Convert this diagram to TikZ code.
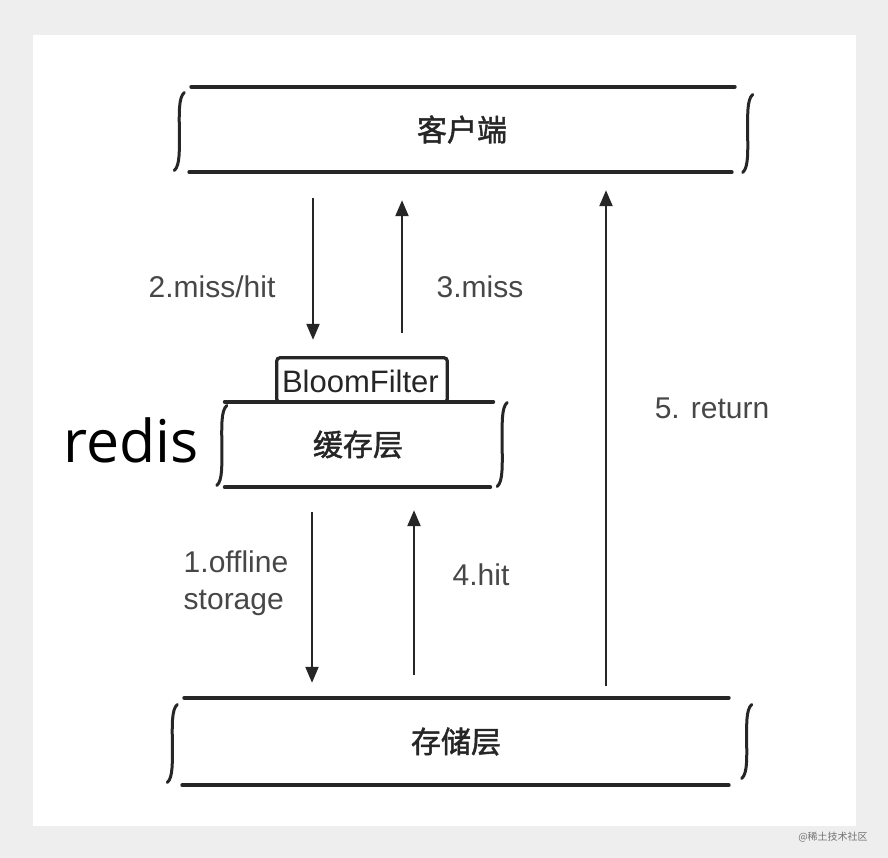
\documentclass[tikz,border=0pt]{standalone}
\usepackage{fontspec}
\setmainfont{Liberation Sans}
\newfontfamily\cjk[FakeBold=1.6]{Noto Sans CJK SC}
\newfontfamily\cjkw{Noto Sans CJK SC}
\newfontfamily\redisfont{Open Sans}
\usetikzlibrary{arrows.meta,calc}
\definecolor{ink}{HTML}{262626}
\definecolor{bg}{HTML}{EEEEEE}
\begin{document}
\begin{tikzpicture}[x=1pt,y=-1pt,
  bar/.style={line width=4pt, draw=ink, line cap=round},
  brace/.style={line width=3pt, draw=ink, line cap=round},
  arr/.style={line width=2.2pt, draw=ink, -{Triangle[length=16pt,width=13pt]}},
  lbl/.style={font=\fontsize{30}{37}\selectfont, text=ink!85, inner sep=0pt},
  layer/.style={inner sep=0pt, font=\cjk\fontsize{30}{30}\selectfont, text=ink},
  pics/brc/.style={code={\draw[brace] (5,-#1/2) .. controls (-1,-#1/2+5) and (0,-#1/2+22) .. (0,0) .. controls (0,#1/2-22) and (1,#1/2-5) .. (-5,#1/2);}}]
% background
\fill[bg] (0,0) rectangle (888,858);
\fill[white] (33,35) rectangle (856,826);
\useasboundingbox (0,0) rectangle (888,858);

% layers
\node[layer, minimum width=543pt, minimum height=85pt] (client) at (462,129.5) {客户端};
\draw[bar] ($(client.north west)+(1,0)$) -- ($(client.north east)+(1,0)$);
\draw[bar] ($(client.south west)+(-1,0)$) -- ($(client.south east)+(-2,0)$);
\pic at ($(client.west)+(-11,2)$) {brc=78};
\pic at ($(client.east)+(14,4)$) {brc=78};

\node[layer, minimum width=266pt, minimum height=85pt] (cache) at (358,444.5) {缓存层};
\draw[bar] ($(cache.north west)+(0,0)$) -- ($(cache.north east)+(2,0)$);
\draw[bar] ($(cache.south west)+(0,0)$) -- ($(cache.south east)+(-1,0)$);
\pic at ($(cache.west)+(-3,1)$) {brc=80};
\pic at ($(cache.east)+(11,0)$) {brc=84};

\node[inner sep=0pt, minimum width=170pt, minimum height=44pt] (bloom) at (362,380) {};
\begin{scope}
  \clip ($(bloom.north west)+(2,2)$) rectangle ($(bloom.south east)+(-2,-2)$);
  \node[anchor=west, inner sep=0pt, font=\fontsize{31}{31}\selectfont, text=ink] (bloomtxt) at ($(bloom.west)+(5,1)$) {BloomFilter};
\end{scope}
\draw[line width=3.2pt, draw=ink, rounded corners=3pt] (bloom.south west) rectangle (bloom.north east);

\node[layer, minimum width=545pt, minimum height=87pt] (storage) at (456,741.5) {存储层};
\draw[bar] ($(storage.north west)+(1,0)$) -- ($(storage.north east)+(0,0)$);
\draw[bar] ($(storage.south west)+(-1,0)$) -- ($(storage.south east)+(0,0)$);
\pic at ($(storage.west)+(-11,2)$) {brc=78};
\pic at ($(storage.east)+(18,0)$) {brc=74};

\node[font=\redisfont\fontsize{59}{59}\selectfont, text=black, inner sep=0pt] (redis) at (131,440) {redis};

% arrow columns
\coordinate (xa2) at (313,0);
\coordinate (xa3) at (402,0);
\coordinate (xa1) at (312,0);
\coordinate (xa4) at (414,0);
\coordinate (xa5) at (606,0);

\draw[arr] ($(client.south -| xa2)+(0,26)$) -- ($(bloom.north -| xa2)+(0,-18)$);
\draw[arr] ($(bloom.north -| xa3)+(0,-25)$) -- ($(client.south -| xa3)+(0,28)$);
\draw[arr] ($(cache.south -| xa1)+(0,25)$) -- ($(storage.north -| xa1)+(0,-15)$);
\draw[arr] ($(storage.north -| xa4)+(0,-23)$) -- ($(cache.south -| xa4)+(0,23)$);
\draw[arr] ($(storage.north -| xa5)+(0,-12)$) -- ($(client.south -| xa5)+(0,18)$);

% labels
\node[lbl] (l2) at (212,287) {2.miss/hit};
\node[lbl] (l3) at (480,287) {3.miss};
\node[lbl, align=left] (l1) at (236,583) {1.offline\\storage};
\node[lbl] (l4) at (481,575) {4.hit};
\node[lbl] (l5) at (712,408) {5. return};

% watermark
\node[font=\cjkw\fontsize{10}{10}\selectfont, text=black!55, inner sep=0pt] (wm) at (833,837) {@稀土技术社区};
\end{tikzpicture}
\end{document}
